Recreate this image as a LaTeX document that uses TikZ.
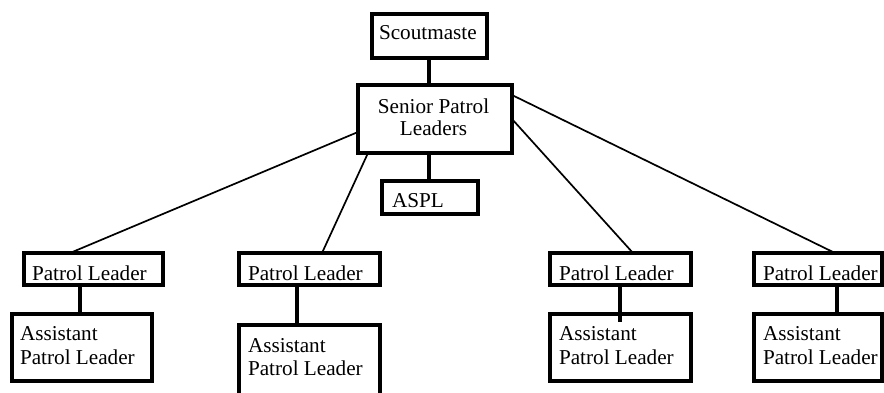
\documentclass[tikz,border=0pt]{standalone}
\usepackage{fontspec}
\setmainfont{Liberation Serif}
\begin{document}
\begin{tikzpicture}[x=1pt,y=-1pt,
  box/.style={draw, line width=4pt, inner sep=0pt, outer sep=0pt, anchor=north west},
  lbl/.style={inner sep=0pt, outer sep=0pt, anchor=base west, font=\fontsize{21.2}{24}\selectfont},
  lblc/.style={lbl, anchor=base},
  vlink/.style={line width=3.6pt},
  dlink/.style={line width=1.7pt}]
\useasboundingbox (0,0) rectangle (884,392);
\clip (0,0) rectangle (884,392);
% boxes
\node[box, minimum width=115pt, minimum height=44pt] (sm) at (372,14) {};
\node[box, minimum width=154pt, minimum height=68pt] (spl) at (358,85) {};
\node[box, minimum width=96pt, minimum height=33pt] (aspl) at (382,181) {};
\node[box, minimum width=139pt, minimum height=32pt] (pl1) at (24,253) {};
\node[box, minimum width=140pt, minimum height=67pt] (apl1) at (12,314) {};
\node[box, minimum width=141pt, minimum height=32pt] (pl2) at (239,253) {};
\node[box, minimum width=141pt, minimum height=80pt] (apl2) at (239,325) {};
\node[box, minimum width=141pt, minimum height=32pt] (pl3) at (550,253) {};
\node[box, minimum width=141pt, minimum height=67pt] (apl3) at (550,314) {};
\node[box, minimum width=128pt, minimum height=32pt] (pl4) at (754,253) {};
\node[box, minimum width=128pt, minimum height=67pt] (apl4) at (754,314) {};
% texts
\node[lbl] (tsm) at (379,39) {Scoutmaste};
\node[lblc] (tspla) at (433.5,113) {Senior Patrol};
\node[lblc] (tsplb) at (433.5,135) {Leaders};
\node[lbl] (taspl) at (392,207) {ASPL};
\node[lbl] (tpl1) at (32,280) {Patrol Leader};
\node[lbl] (tpl2) at (248,280) {Patrol Leader};
\node[lbl] (tpl3) at (559,280) {Patrol Leader};
\node[lbl] (tpl4) at (763,280) {Patrol Leader};
\node[lbl] (tapl1a) at (20,340) {Assistant};
\node[lbl] (tapl1b) at (20,364) {Patrol Leader};
\node[lbl] (tapl2a) at (248,352) {Assistant};
\node[lbl] (tapl2b) at (248,375) {Patrol Leader};
\node[lbl] (tapl3a) at (559,340) {Assistant};
\node[lbl] (tapl3b) at (559,364) {Patrol Leader};
\node[lbl] (tapl4a) at (763,340) {Assistant};
\node[lbl] (tapl4b) at (763,364) {Patrol Leader};
% vertical links
\draw[vlink] (sm.south -| 429,0) -- (spl.north -| 429,0);
\draw[vlink] (spl.south -| 429,0) -- (aspl.north -| 429,0);
\draw[vlink] (pl1.south -| 80,0) -- (apl1.north -| 80,0);
\draw[vlink] (pl2.south -| 297,0) -- (apl2.north -| 297,0);
\draw[vlink] (pl3.south -| 620,0) -- (apl3.north -| 620,0) -- ++(0,8);
\draw[vlink] (pl4.south -| 837,0) -- (apl4.north -| 837,0);
% diagonal links
\draw[dlink] (spl.west |- 0,132) -- (pl1.north -| 70,0);
\draw[dlink] (spl.south -| 368,0) -- (pl2.north -| 322,0);
\draw[dlink] (spl.east |- 0,119) -- (pl3.north -| 633,0);
\draw[dlink] (spl.east |- 0,95) -- (pl4.north -| 835,0);
\end{tikzpicture}
\end{document}
